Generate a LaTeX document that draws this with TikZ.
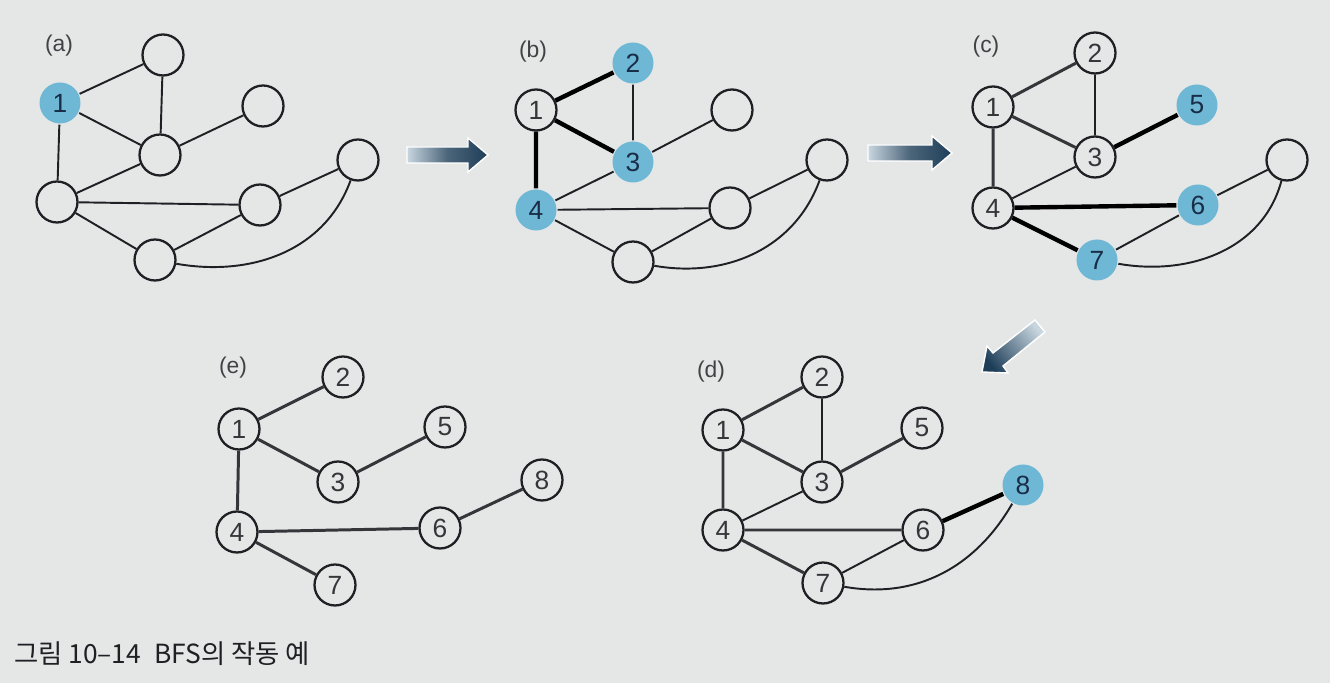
\documentclass[tikz,border=0pt]{standalone}
\usepackage{fontspec}
\setmainfont{Liberation Sans}
\newfontfamily\krfont{Noto Sans CJK KR}
\usepackage{xcolor}
\usepackage{tikz}
\definecolor{pagebg}{RGB}{229,230,230}
\definecolor{visited}{RGB}{110,184,214}
\definecolor{ink}{RGB}{30,32,36}
\definecolor{navy}{RGB}{25,45,70}
\definecolor{arrowdark}{RGB}{30,62,88}
\definecolor{arrowlight}{RGB}{200,214,224}

\begin{document}
\begin{tikzpicture}[x=0.02cm, y=0.02cm,
    vtx/.style={circle, draw=ink, line width=1.3pt, fill=pagebg, minimum size=0.82cm, inner sep=0pt, font=\fontsize{15}{15}\selectfont, text=ink!90},
    seen/.style={vtx, draw=none, fill=visited, text=navy},
    edge/.style={ink, line width=1.1pt},
    tree/.style={ink!90, line width=1.7pt},
    newtree/.style={black, line width=2.5pt},
    panel/.style={font=\fontsize{13}{13}\selectfont, text=ink!85},
    bigarrow/.style={draw=white, line width=0.8pt}
]
    % Page
    \fill[pagebg] (0,0) rectangle (1330,683);
    \useasboundingbox (0,0) rectangle (1330,683);

    % (a) start
    \node[panel] (la) at (59,637) {(a)};
    \node[seen] (a1) at (60,580) {1};
    \node[vtx] (a2) at (163,628) {};
    \node[vtx] (a3) at (160,528) {};
    \node[vtx] (a4) at (57,481) {};
    \node[vtx] (a5) at (263,577) {};
    \node[vtx] (a6) at (260,478) {};
    \node[vtx] (a7) at (155,423) {};
    \node[vtx] (a8) at (358,523) {};
    \draw[edge] (a1) -- (a2) (a1) -- (a3) (a1) -- (a4) (a2) -- (a3)
        (a3) -- (a5) (a3) -- (a4) (a4) -- (a6) (a4) -- (a7)
        (a6) -- (a8) (a6) -- (a7);
    \draw[edge] (a7) to[out=-10, in=-110] (a8);

    % (b) first level
    \node[panel] (lb) at (533,631) {(b)};
    \node[vtx] (b1) at (536,573) {1};
    \node[seen] (b2) at (633,620) {2};
    \node[seen] (b3) at (633,521) {3};
    \node[seen] (b4) at (536,473) {4};
    \node[vtx] (b5) at (732,573) {};
    \node[vtx] (b6) at (730,475) {};
    \node[vtx] (b7) at (633,421) {};
    \node[vtx] (b8) at (827,523) {};
    \draw[newtree] (b1) -- (b2) (b1) -- (b3) (b1) -- (b4);
    \draw[edge] (b2) -- (b3) (b3) -- (b5) (b3) -- (b4) (b4) -- (b6)
        (b4) -- (b7) (b6) -- (b8) (b6) -- (b7);
    \draw[edge] (b7) to[out=-10, in=-110] (b8);

    % (c) second level
    \node[panel] (lc) at (986,636) {(c)};
    \node[vtx] (c1) at (993,576) {1};
    \node[vtx] (c2) at (1095,630) {2};
    \node[vtx] (c3) at (1095,526) {3};
    \node[vtx] (c4) at (993,475) {4};
    \node[seen] (c5) at (1197,578) {5};
    \node[seen] (c6) at (1198,478) {6};
    \node[seen] (c7) at (1097,423) {7};
    \node[vtx] (c8) at (1287,523) {};
    \draw[tree] (c1) -- (c2) (c1) -- (c3) (c1) -- (c4);
    \draw[newtree] (c3) -- (c5) (c4) -- (c6) (c4) -- (c7);
    \draw[edge] (c2) -- (c3) (c3) -- (c4) (c6) -- (c8) (c6) -- (c7);
    \draw[edge] (c7) to[out=-10, in=-105] (c8);

    % (d) third level
    \node[panel] (ld) at (711,311) {(d)};
    \node[vtx] (d1) at (723,253) {1};
    \node[vtx] (d2) at (822,306) {2};
    \node[vtx] (d3) at (822,201) {3};
    \node[vtx] (d4) at (723,153) {4};
    \node[vtx] (d5) at (922,255) {5};
    \node[vtx] (d6) at (923,153) {6};
    \node[vtx] (d7) at (823,100) {7};
    \node[seen] (d8) at (1023,198) {8};
    \draw[tree] (d1) -- (d2) (d1) -- (d3) (d1) -- (d4) (d3) -- (d5)
        (d4) -- (d6) (d4) -- (d7);
    \draw[newtree] (d6) -- (d8);
    \draw[edge] (d2) -- (d3) (d3) -- (d4) (d6) -- (d7);
    \draw[edge] (d7) to[out=-10, in=-120] (d8);

    % (e) BFS tree
    \node[panel] (le) at (233,315) {(e)};
    \node[vtx] (e1) at (239,254) {1};
    \node[vtx] (e2) at (343,306) {2};
    \node[vtx] (e3) at (338,201) {3};
    \node[vtx] (e4) at (237,151) {4};
    \node[vtx] (e5) at (445,256) {5};
    \node[vtx] (e6) at (440,155) {6};
    \node[vtx] (e7) at (335,98) {7};
    \node[vtx] (e8) at (542,203) {8};
    \draw[tree] (e1) -- (e2) (e1) -- (e3) (e1) -- (e4) (e3) -- (e5)
        (e4) -- (e6) (e4) -- (e7) (e6) -- (e8);

    % Step arrows
    \path[bigarrow, left color=arrowlight, right color=arrowdark, middle color=arrowdark!80]
        (407,536) -- (468,536) -- (468,545) -- (488,528) -- (468,511) -- (468,520) -- (407,520) -- cycle;
    \path[bigarrow, left color=arrowlight, right color=arrowdark, middle color=arrowdark!80]
        (868,538) -- (932,538) -- (932,547) -- (952,530) -- (932,513) -- (932,522) -- (868,522) -- cycle;
    \path[bigarrow, top color=arrowlight, bottom color=arrowdark, shading angle=-52]
        (1045,351) -- (1003,317) -- (1008,310) -- (982,311) -- (987,337) -- (993,330) -- (1035,363) -- cycle;

    % Caption
    \node[anchor=west, font=\krfont\fontsize{15}{18}\selectfont, text=ink] (caption) at (8,29)
        {그림 10–14\hspace{0.5em}BFS의 작동 예};
\end{tikzpicture}
\end{document}
